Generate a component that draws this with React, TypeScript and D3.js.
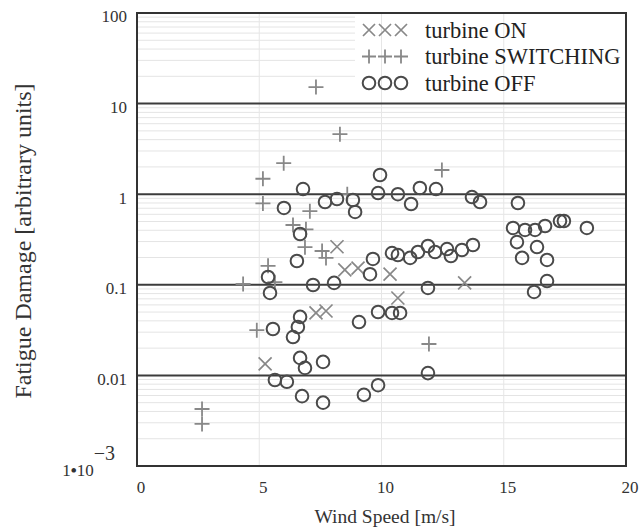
import * as d3 from "d3";

// wind speed [m/s], fatigue damage [arbitrary units]
const onSpeed = [8.18, 8.5, 9.04, 10.35, 10.67, 13.4, 7.32, 7.73, 5.24];
const onDamage = [0.263, 0.146, 0.153, 0.131, 0.0715, 0.105, 0.0489, 0.0514, 0.0134];

const switchSpeed = [7.32, 8.3, 6.0, 5.15, 5.15, 7.07, 6.38, 6.91, 6.87, 7.57, 7.73, 5.36, 4.34, 5.64, 4.9, 11.94, 12.47, 8.6, 2.66, 2.66];
const switchDamage = [15.2, 4.6, 2.2, 1.48, 0.79, 0.65, 0.457, 0.41, 0.26, 0.236, 0.198, 0.162, 0.102, 0.107, 0.0316, 0.0222, 1.85, 1.0, 0.00426, 0.00291];

const offSpeed = [
  6.79, 6.01, 7.69, 8.18, 8.83, 8.92, 9.94, 9.86, 10.67, 11.21, 11.57, 12.23, 13.7, 14.03, 15.58,
  6.67, 6.54, 5.36, 5.44, 7.2, 8.06, 9.53, 9.65, 10.43, 10.67, 11.17, 11.49, 11.9, 12.19, 12.68,
  13.29, 13.74, 11.9, 9.86, 10.43, 10.76, 9.08, 6.67, 6.58, 6.38, 5.56, 6.67, 6.87, 7.61, 5.64,
  6.13, 6.75, 7.61, 9.28, 9.86, 11.9, 15.38, 15.87, 16.28, 16.69, 17.3, 17.46, 18.4, 15.54, 16.36,
  15.75, 16.77, 16.77, 16.24, 12.84,
];
const offDamage = [
  1.14, 0.705, 0.82, 0.885, 0.863, 0.637, 1.63, 1.03, 1.0, 0.78, 1.17, 1.14, 0.93, 0.82, 0.8,
  0.364, 0.183, 0.122, 0.0813, 0.0995, 0.105, 0.131, 0.193, 0.224, 0.213, 0.198, 0.23, 0.268, 0.23, 0.248,
  0.242, 0.275, 0.0923, 0.0501, 0.0489, 0.0489, 0.0388, 0.0442, 0.0342, 0.0265, 0.0325, 0.0156, 0.0121, 0.0141, 0.0089,
  0.0085, 0.0059, 0.005, 0.0061, 0.0078, 0.0106, 0.424, 0.403, 0.403, 0.446, 0.506, 0.506, 0.424, 0.296, 0.261,
  0.198, 0.188, 0.11, 0.0834, 0.208,
];

const xTicks = [0, 5, 10, 15, 20];
const yTicks = [100, 10, 1, 0.1, 0.01];
const legendLabels = ["turbine ON", "turbine SWITCHING", "turbine OFF"];

const W = 643;
const H = 529;
const FONT = "'Liberation Serif', 'Times New Roman', serif";
const light = "#888";
const dark = "#4a4a4a";

const x = d3.scaleLinear().domain([0, 20]).range([137, 626]);
const y = d3.scaleLog().domain([1e-3, 100]).range([466, 13]);

const Cross = ({ cx, cy, s = 6.5 }: { cx: number; cy: number; s?: number }) => (
  <path d={`M${cx - s},${cy - s}L${cx + s},${cy + s}M${cx - s},${cy + s}L${cx + s},${cy - s}`} stroke={light} strokeWidth={1.7} fill="none" />
);
const Plus = ({ cx, cy, s = 7.5 }: { cx: number; cy: number; s?: number }) => (
  <path d={`M${cx - s},${cy}L${cx + s},${cy}M${cx},${cy - s}L${cx},${cy + s}`} stroke={light} strokeWidth={1.8} fill="none" />
);
const Ring = ({ cx, cy }: { cx: number; cy: number }) => (
  <circle cx={cx} cy={cy} r={6.3} stroke={dark} strokeWidth={2} fill="none" />
);

export default function App() {
  const [x0, x1] = x.range();
  const [yb, yt] = y.range();

  // minor grid: 2..9 within each decade
  const minor: number[] = [];
  for (let e = -3; e < 2; e++) for (let m = 2; m <= 9; m++) minor.push(m * Math.pow(10, e));

  const legendX = 355;

  return (
    <svg width={W} height={H} style={{ position: "absolute", left: 0, top: 0, background: "#fff" }} fontFamily={FONT}>
      <rect width={W} height={H} fill="#fff" />
      {minor.map((v) => (
        <line key={v} x1={x0} x2={x1} y1={y(v)} y2={y(v)} stroke="#e4e4e4" strokeWidth={1} />
      ))}
      {/* legend background */}
      <rect x={legendX} y={yt} width={x1 - legendX} height={y(10) - yt} fill="#fff" />
      {[5, 10, 15].map((v) => (
        <line key={v} x1={x(v)} x2={x(v)} y1={yt} y2={yb} stroke="#e6e6e6" strokeWidth={1} />
      ))}
      {yTicks.slice(1).map((v) => (
        <line key={v} x1={x0} x2={x1} y1={y(v)} y2={y(v)} stroke="#3c3c3c" strokeWidth={2} />
      ))}
      <rect x={x0} y={yt} width={x1 - x0} height={yb - yt} fill="none" stroke="#333" strokeWidth={2} />

      {/* data */}
      {switchSpeed.map((s, i) => (
        <Plus key={"s" + i} cx={x(s)} cy={y(switchDamage[i])} />
      ))}
      {onSpeed.map((s, i) => (
        <Cross key={"n" + i} cx={x(s)} cy={y(onDamage[i])} />
      ))}
      {offSpeed.map((s, i) => (
        <Ring key={"o" + i} cx={x(s)} cy={y(offDamage[i])} />
      ))}

      {/* legend */}
      {legendLabels.map((lab, i) => {
        const ly = 30 + i * 26.5;
        return (
          <g key={lab}>
            {[0, 1, 2].map((k) => {
              const mx = 369 + k * 16;
              if (i === 0) return <Cross key={k} cx={mx} cy={ly} s={6} />;
              if (i === 1) return <Plus key={k} cx={mx} cy={ly} s={7} />;
              return <Ring key={k} cx={mx} cy={ly} />;
            })}
            <text x={425} y={ly} dy="0.35em" fontSize={22.5} fill="#222">
              {lab}
            </text>
          </g>
        );
      })}

      {/* y ticks */}
      {yTicks.map((v) => (
        <text key={v} x={127} y={y(v)} dy="0.55em" textAnchor="end" fontSize={17} fill="#333">
          {d3.format("~g")(v)}
        </text>
      ))}
      <text x={115} y={y(1e-3)} dy="0.6em" textAnchor="end" fontSize={17} fill="#333">
        1<tspan fontWeight="bold">•</tspan>10<tspan dy="-0.8em" fontSize={20}>−3</tspan>
      </text>

      {/* x ticks */}
      {xTicks.map((v) => (
        <text key={v} x={x(v) + 4} y={493} textAnchor="middle" fontSize={17} fill="#333">
          {v}
        </text>
      ))}

      <text x={385} y={523} textAnchor="middle" fontSize={19.5} fill="#333">
        Wind Speed [m/s]
      </text>
      <text transform={`translate(31,241) rotate(-90)`} textAnchor="middle" fontSize={24} fill="#333">
        Fatigue Damage [arbitrary units]
      </text>
    </svg>
  );
}
